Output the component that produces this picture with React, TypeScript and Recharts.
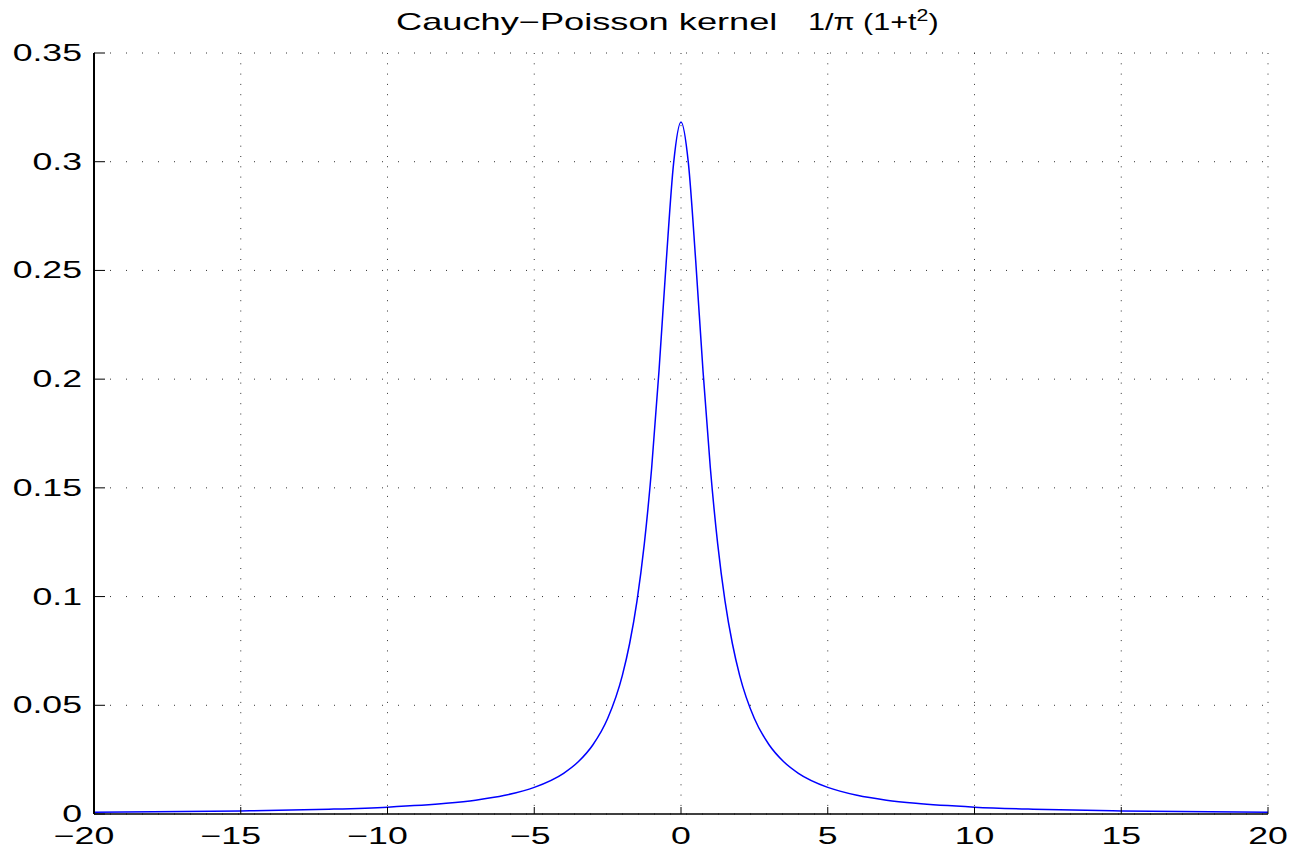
import React from "react";
import { LineChart, Line, XAxis, YAxis, CartesianGrid } from "recharts";

const tValues = [
  -20, -15, -12, -10, -8, -7, -6, -5, -4, -3.5, -3, -2.5, -2, -1.75, -1.5, -1.25, -1, -0.75, -0.5, -0.25,
  0, 0.25, 0.5, 0.75, 1, 1.25, 1.5, 1.75, 2, 2.5, 3, 3.5, 4, 5, 6, 7, 8, 10, 12, 15, 20,
];
const kernelValues = [
  0.00079, 0.00141, 0.0022, 0.00315, 0.0049, 0.00637, 0.0086, 0.01224, 0.01872, 0.02401, 0.03183, 0.0439,
  0.06366, 0.07842, 0.09794, 0.1242, 0.15915, 0.20372, 0.25465, 0.29959,
  0.31831, 0.29959, 0.25465, 0.20372, 0.15915, 0.1242, 0.09794, 0.07842, 0.06366, 0.0439, 0.03183, 0.02401,
  0.01872, 0.01224, 0.0086, 0.00637, 0.0049, 0.00315, 0.0022, 0.00141, 0.00079,
];
const xTicks = [-20, -15, -10, -5, 0, 5, 10, 15, 20];
const yTicks = [0, 0.05, 0.1, 0.15, 0.2, 0.25, 0.3, 0.35];
const yTickLabels = ["0", "0.05", "0.1", "0.15", "0.2", "0.25", "0.3", "0.35"];
const titleText = "Cauchy\u2212Poisson kernel";
const titleMath = "1/\u03c0 (1+t";

const data = tValues.map((t, i) => ({ t, k: kernelValues[i] }));

const FONT = "'Liberation Sans', Arial, Helvetica, sans-serif";
const SX = 1.55;
const FS = 23;

const fmtX = (v: number) => (v < 0 ? "\u2212" + Math.abs(v) : String(v));

const BottomTick = (props: any) => {
  const { x, y, payload } = props;
  const v = payload.value as number;
  const shift = v < 0 ? (Math.abs(v) >= 10 ? -10 : -4) : 0;
  return (
    <g>
      <line x1={x} y1={y} x2={x} y2={y - 7} stroke="#000" strokeWidth={1} />
      <text
        transform={`translate(${x + shift},${y + 30}) scale(${SX},1)`}
        textAnchor="middle"
        fontSize={FS}
        fontFamily={FONT}
        fill="#000"
      >
        {fmtX(v)}
      </text>
    </g>
  );
};

const TopTick = (props: any) => {
  const { x, y } = props;
  return <line x1={x} y1={y} x2={x} y2={y + 7} stroke="#000" strokeWidth={1} />;
};

const LeftTick = (props: any) => {
  const { x, y, payload } = props;
  const label = yTickLabels[yTicks.indexOf(payload.value)] ?? String(payload.value);
  return (
    <g>
      <line x1={x} y1={y} x2={x + 11} y2={y} stroke="#000" strokeWidth={1} />
      <text
        transform={`translate(${x - 12},${y + 8}) scale(${SX},1)`}
        textAnchor="end"
        fontSize={FS}
        fontFamily={FONT}
        fill="#000"
      >
        {label}
      </text>
    </g>
  );
};

const RightTick = (props: any) => {
  const { x, y } = props;
  return <line x1={x} y1={y} x2={x - 11} y2={y} stroke="#000" strokeWidth={1} />;
};

export default function App() {
  return (
    <div style={{ position: "absolute", left: 0, top: 0, width: 1295, height: 850, background: "#fff" }}>
      <LineChart width={1295} height={850} data={data} margin={{ top: 53, right: 27, bottom: 0, left: 0 }}>
        <CartesianGrid horizontal={true} vertical={false} stroke="#333" strokeWidth={1} strokeDasharray="1 15" />
        <CartesianGrid horizontal={false} vertical={true} stroke="#333" strokeWidth={1} strokeDasharray="1 9.3" />
        <XAxis
          dataKey="t"
          type="number"
          domain={[-20, 20]}
          ticks={xTicks}
          interval={0}
          height={36}
          tickSize={0}
          tickMargin={0}
          tickLine={false}
          axisLine={{ stroke: "#000", strokeWidth: 1.5 }}
          tick={<BottomTick />}
        />
        <XAxis
          xAxisId="top"
          orientation="top"
          dataKey="t"
          type="number"
          domain={[-20, 20]}
          ticks={xTicks}
          interval={0}
          height={0}
          tickSize={0}
          tickMargin={0}
          tickLine={false}
          axisLine={{ stroke: "#000", strokeWidth: 1.5 }}
          tick={<TopTick />}
        />
        <YAxis
          type="number"
          domain={[0, 0.35]}
          ticks={yTicks}
          interval={0}
          width={94}
          tickSize={0}
          tickMargin={0}
          tickLine={false}
          axisLine={{ stroke: "#000", strokeWidth: 2 }}
          tick={<LeftTick />}
        />
        <YAxis
          yAxisId="right"
          orientation="right"
          type="number"
          domain={[0, 0.35]}
          ticks={yTicks}
          interval={0}
          width={0}
          tickSize={0}
          tickMargin={0}
          tickLine={false}
          axisLine={{ stroke: "#000", strokeWidth: 2 }}
          tick={<RightTick />}
        />
        <Line
          type="monotone"
          dataKey="k"
          stroke="#0000ff"
          strokeWidth={1.5}
          dot={false}
          isAnimationActive={false}
        />
      </LineChart>
      <svg
        width={1295}
        height={60}
        style={{ position: "absolute", left: 0, top: 0, pointerEvents: "none" }}
      >
        <text
          transform="translate(396,30) scale(1.575,1)"
          textAnchor="start"
          fontSize={FS}
          fontFamily={FONT}
          fill="#000"
        >
          {titleText}
        </text>
        <text
          transform="translate(808,30) scale(1.33,1)"
          textAnchor="start"
          fontSize={FS}
          fontFamily={FONT}
          fill="#000"
        >
          {titleMath}
          <tspan dy={-9} fontSize={16}>2</tspan>
          <tspan dy={9}>)</tspan>
        </text>
      </svg>
    </div>
  );
}
